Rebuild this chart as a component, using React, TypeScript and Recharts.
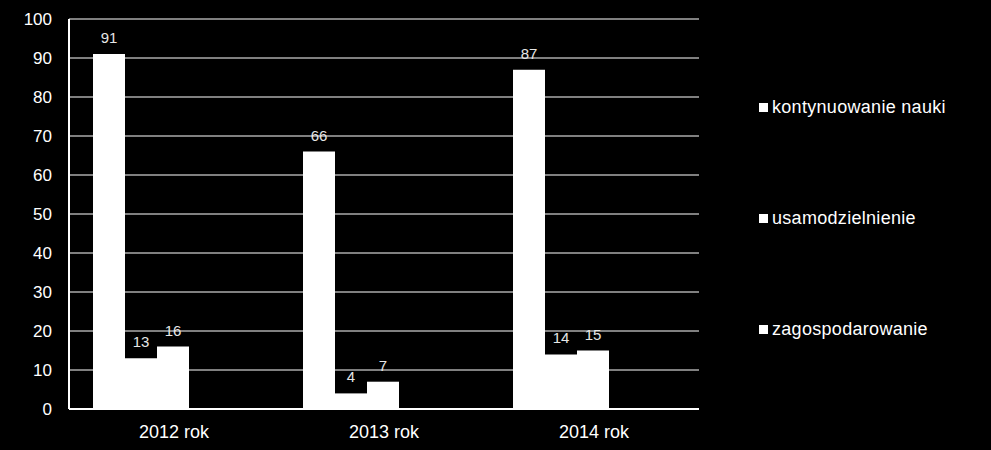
import { BarChart, Bar, XAxis, YAxis, CartesianGrid, LabelList } from 'recharts';

const categories = ['2012 rok', '2013 rok', '2014 rok'];
const kontynuowanie = [91, 66, 87];
const usamodzielnienie = [13, 4, 14];
const zagospodarowanie = [16, 7, 15];
const yTicks = [0, 10, 20, 30, 40, 50, 60, 70, 80, 90, 100];

const seriesNames = ['kontynuowanie nauki', 'usamodzielnienie', 'zagospodarowanie'];

const data = categories.map((name, i) => ({
  name,
  k: kontynuowanie[i],
  u: usamodzielnienie[i],
  z: zagospodarowanie[i],
}));

const font = '"Liberation Sans", Arial, sans-serif';

const LegendBox = () => (
  <div style={{ position: 'absolute', left: 759, top: 0, fontFamily: font }}>
    {seriesNames.map((n, i) => (
      <div
        key={n}
        style={{
          position: 'absolute',
          top: 97 + i * 111,
          display: 'flex',
          alignItems: 'center',
          whiteSpace: 'nowrap',
          color: '#fff',
          fontSize: 18,
          letterSpacing: 0.3,
        }}
      >
        <span style={{ width: 9, height: 9, background: '#fff', marginRight: 4, display: 'inline-block' }} />
        {n}
      </div>
    ))}
  </div>
);

export default function App() {
  const labelStyle = { fill: '#e6e6e6', fontSize: 15, fontFamily: font };
  return (
    <div style={{ position: 'absolute', left: 0, top: 0, width: 991, height: 450, background: '#000' }}>
      <BarChart
        width={991}
        height={450}
        data={data}
        margin={{ top: 19, right: 292, left: 0, bottom: 11 }}
        barCategoryGap={24}
        barGap={0}
      >
        <CartesianGrid yAxisId="l" vertical={false} stroke="#fff" strokeWidth={1} />
        <XAxis
          dataKey="name"
          height={30}
          tickSize={0}
          tickMargin={16}
          axisLine={{ stroke: '#fff', strokeWidth: 2 }}
          tick={{ fill: '#fff', fontSize: 18, fontFamily: font }}
        />
        <YAxis
          yAxisId="l"
          width={69}
          domain={[0, 100]}
          ticks={yTicks}
          interval={0}
          tickSize={0}
          tickMargin={17}
          axisLine={{ stroke: '#fff', strokeWidth: 2 }}
          tick={{ fill: '#fff', fontSize: 17, fontFamily: font }}
        />
        <YAxis
          yAxisId="r"
          orientation="right"
          width={0}
          domain={[0, 100]}
          tick={false}
          tickLine={false}
          axisLine={{ stroke: '#fff', strokeWidth: 1 }}
        />
        <Bar yAxisId="l" dataKey="k" fill="#fff" isAnimationActive={false}>
          <LabelList dataKey="k" position="top" offset={11} style={labelStyle} />
        </Bar>
        <Bar yAxisId="l" dataKey="u" fill="#fff" isAnimationActive={false}>
          <LabelList dataKey="u" position="top" offset={11} style={labelStyle} />
        </Bar>
        <Bar yAxisId="l" dataKey="z" fill="#fff" isAnimationActive={false}>
          <LabelList dataKey="z" position="top" offset={11} style={labelStyle} />
        </Bar>
        <Bar yAxisId="l" dataKey="e1" fill="#fff" isAnimationActive={false} />
        <Bar yAxisId="l" dataKey="e2" fill="#fff" isAnimationActive={false} />
      </BarChart>
      <LegendBox />
    </div>
  );
}
